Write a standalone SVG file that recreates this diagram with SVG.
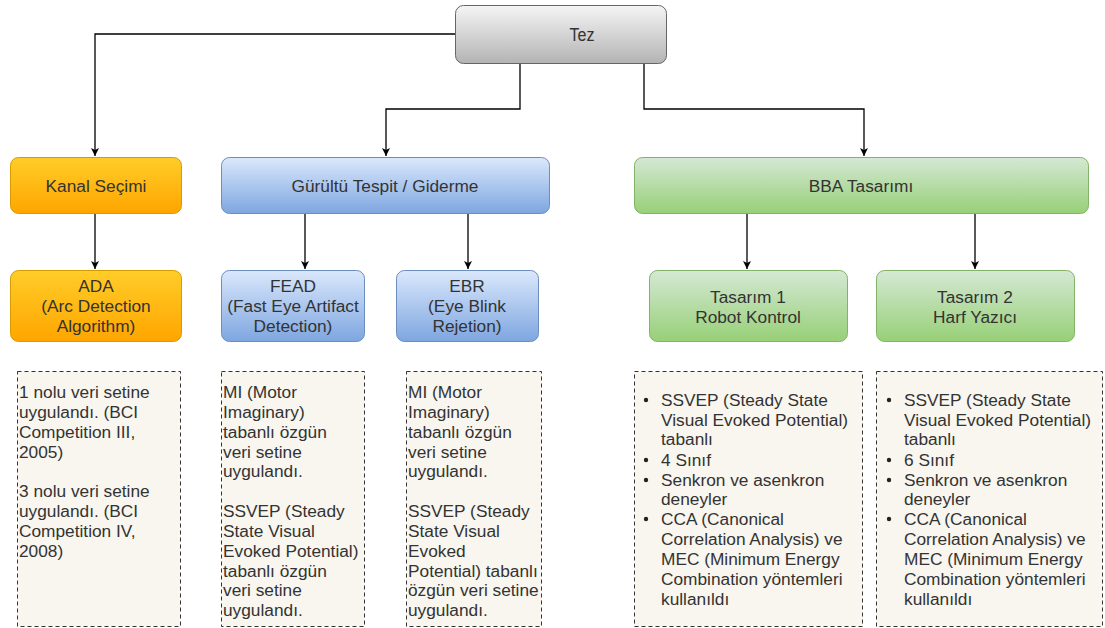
<svg xmlns="http://www.w3.org/2000/svg" width="1105" height="628" viewBox="0 0 1105 628">
<defs>
<linearGradient id="gGray" x1="0" y1="0" x2="0" y2="1"><stop offset="0" stop-color="#f5f5f5"/><stop offset="1" stop-color="#b3b3b3"/></linearGradient>
<linearGradient id="gOrange" x1="0" y1="0" x2="0" y2="1"><stop offset="0" stop-color="#ffcd28"/><stop offset="1" stop-color="#ffa500"/></linearGradient>
<linearGradient id="gBlue" x1="0" y1="0" x2="0" y2="1"><stop offset="0" stop-color="#dae8fc"/><stop offset="1" stop-color="#7ea6e0"/></linearGradient>
<linearGradient id="gGreen" x1="0" y1="0" x2="0" y2="1"><stop offset="0" stop-color="#d5e8d4"/><stop offset="1" stop-color="#97d077"/></linearGradient>
<marker id="arr" viewBox="0 0 10 10" refX="10" refY="5" markerWidth="8" markerHeight="8" markerUnits="userSpaceOnUse" orient="auto">
<path d="M0,0 L10,5 L0,10 L2.5,5 Z" fill="#000"/>
</marker>
</defs>
<style>
text{font-family:"Liberation Sans",Arial,sans-serif;font-size:17.3px;fill:#333}
.c{text-anchor:middle}
.conn{fill:none;stroke:#000;stroke-width:1.3}
.gray{fill:url(#gGray);stroke:#666;stroke-width:1}
.orange{fill:url(#gOrange);stroke:#d79b00;stroke-width:1}
.blue{fill:url(#gBlue);stroke:#6c8ebf;stroke-width:1}
.green{fill:url(#gGreen);stroke:#82b366;stroke-width:1}
.note{fill:#f8f6ef;stroke:#333;stroke-width:1;stroke-dasharray:4,3}
.dot{fill:#222}
</style>
<rect width="1105" height="628" fill="#fff"/>
<g id="connectors">
<path class="conn" d="M456,34 H95 V156" marker-end="url(#arr)"/>
<path class="conn" d="M520,63 V109 H386 V156" marker-end="url(#arr)"/>
<path class="conn" d="M644,63 V109 H864 V156" marker-end="url(#arr)"/>
<path class="conn" d="M95,213 V269" marker-end="url(#arr)"/>
<path class="conn" d="M305,213 V269" marker-end="url(#arr)"/>
<path class="conn" d="M468,213 V269" marker-end="url(#arr)"/>
<path class="conn" d="M747,213 V269" marker-end="url(#arr)"/>
<path class="conn" d="M975,213 V269" marker-end="url(#arr)"/>
</g>
<g id="tez"><rect class="gray" x="455.5" y="5.5" width="211" height="58" rx="8"/><text class="c" x="582" y="41" style="font-size:17.5px" textLength="25" lengthAdjust="spacingAndGlyphs">Tez</text></g>
<g id="kanal"><rect class="orange" x="10.5" y="157.5" width="171" height="56" rx="8"/><text class="c" x="96" y="192">Kanal Seçimi</text></g>
<g id="gurultu"><rect class="blue" x="221.5" y="157.5" width="328" height="56" rx="8"/><text class="c" x="385" y="192">Gürültü Tespit / Giderme</text></g>
<g id="bba"><rect class="green" x="634.5" y="157.5" width="454" height="56" rx="8"/><text class="c" x="861" y="192">BBA Tasarımı</text></g>
<g id="ada"><rect class="orange" x="10.5" y="270.5" width="171" height="71" rx="8"/>
<text class="c" x="96" y="292">ADA</text><text class="c" x="96" y="312">(Arc Detection</text><text class="c" x="96" y="332">Algorithm)</text></g>
<g id="fead"><rect class="blue" x="221.5" y="270.5" width="143" height="71" rx="8"/>
<text class="c" x="293" y="292">FEAD</text><text class="c" x="293" y="312">(Fast Eye Artifact</text><text class="c" x="293" y="332">Detection)</text></g>
<g id="ebr"><rect class="blue" x="396.5" y="270.5" width="142" height="71" rx="8"/>
<text class="c" x="467" y="292">EBR</text><text class="c" x="467" y="312">(Eye Blink</text><text class="c" x="467" y="332">Rejetion)</text></g>
<g id="tasarim1"><rect class="green" x="649.5" y="270.5" width="198" height="71" rx="8"/>
<text class="c" x="748" y="303">Tasarım 1</text><text class="c" x="748" y="323">Robot Kontrol</text></g>
<g id="tasarim2"><rect class="green" x="876.5" y="270.5" width="198" height="71" rx="8"/>
<text class="c" x="975" y="303">Tasarım 2</text><text class="c" x="975" y="323">Harf Yazıcı</text></g>
<g id="note1"><rect class="note" x="17.5" y="371.5" width="163" height="255"/>
<text x="19" y="398">1 nolu veri setine</text><text x="19" y="418">uygulandı. (BCI</text><text x="19" y="438">Competition III,</text><text x="19" y="458">2005)</text>
<text x="19" y="497">3 nolu veri setine</text><text x="19" y="517">uygulandı. (BCI</text><text x="19" y="537">Competition IV,</text><text x="19" y="557">2008)</text></g>
<g id="note2"><rect class="note" x="221.5" y="371.5" width="143" height="255"/>
<text x="223" y="398">MI (Motor</text><text x="223" y="418">Imaginary)</text><text x="223" y="438">tabanlı özgün</text><text x="223" y="458">veri setine</text><text x="223" y="477">uygulandı.</text>
<text x="223" y="517">SSVEP (Steady</text><text x="223" y="537">State Visual</text><text x="223" y="557">Evoked Potential)</text><text x="223" y="577">tabanlı özgün</text><text x="223" y="596">veri setine</text><text x="223" y="616">uygulandı.</text></g>
<g id="note3"><rect class="note" x="406.5" y="371.5" width="135" height="255"/>
<text x="408" y="398">MI (Motor</text><text x="408" y="418">Imaginary)</text><text x="408" y="438">tabanlı özgün</text><text x="408" y="458">veri setine</text><text x="408" y="477">uygulandı.</text>
<text x="408" y="517">SSVEP (Steady</text><text x="408" y="537">State Visual</text><text x="408" y="557">Evoked</text><text x="408" y="577">Potential) tabanlı</text><text x="408" y="596">özgün veri setine</text><text x="408" y="616">uygulandı.</text></g>
<g id="note4"><rect class="note" x="634.5" y="371.5" width="228" height="255"/>
<circle class="dot" cx="646" cy="400" r="2.2"/><text x="661" y="406">SSVEP (Steady State</text><text x="661" y="426">Visual Evoked Potential)</text><text x="661" y="445">tabanlı</text>
<circle class="dot" cx="646" cy="460" r="2.2"/><text x="661" y="466">4 Sınıf</text>
<circle class="dot" cx="646" cy="480" r="2.2"/><text x="661" y="486">Senkron ve asenkron</text><text x="661" y="505">deneyler</text>
<circle class="dot" cx="646" cy="519" r="2.2"/><text x="661" y="525">CCA (Canonical</text><text x="661" y="545">Correlation Analysis) ve</text><text x="661" y="565">MEC (Minimum Energy</text><text x="661" y="585">Combination yöntemleri</text><text x="661" y="605">kullanıldı</text></g>
<g id="note5"><rect class="note" x="876.5" y="371.5" width="226" height="255"/>
<circle class="dot" cx="889" cy="400" r="2.2"/><text x="904" y="406">SSVEP (Steady State</text><text x="904" y="426">Visual Evoked Potential)</text><text x="904" y="445">tabanlı</text>
<circle class="dot" cx="889" cy="460" r="2.2"/><text x="904" y="466">6 Sınıf</text>
<circle class="dot" cx="889" cy="480" r="2.2"/><text x="904" y="486">Senkron ve asenkron</text><text x="904" y="505">deneyler</text>
<circle class="dot" cx="889" cy="519" r="2.2"/><text x="904" y="525">CCA (Canonical</text><text x="904" y="545">Correlation Analysis) ve</text><text x="904" y="565">MEC (Minimum Energy</text><text x="904" y="585">Combination yöntemleri</text><text x="904" y="605">kullanıldı</text></g>
</svg>
